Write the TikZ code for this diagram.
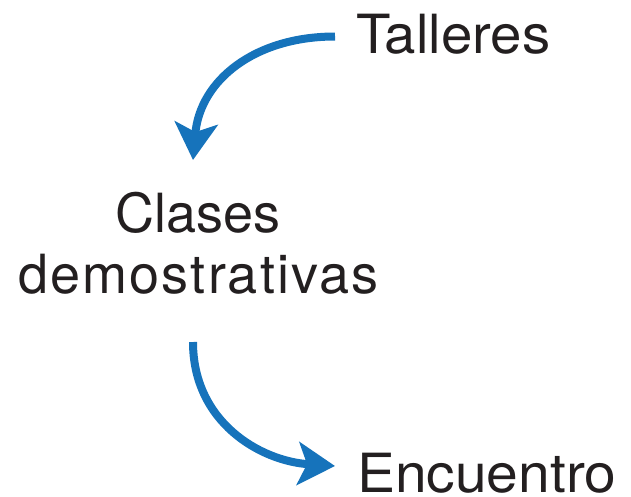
\documentclass[tikz,border=0pt]{standalone}
\usepackage{fontspec}
\setmainfont{TeX Gyre Heros}
\usetikzlibrary{arrows.meta}
\definecolor{arrowblue}{RGB}{22,115,187}
\definecolor{textdark}{RGB}{35,31,32}
\tikzset{
  label text/.style={inner sep=0pt, outer sep=0pt, text=textdark, font=\fontsize{54}{60}\selectfont},
  flow/.style={draw=arrowblue, line width=8pt,
    -{Stealth[length=37pt, width=43pt, inset=9pt]}}
}
\begin{document}
\begin{tikzpicture}[x=1pt,y=-1pt]
\useasboundingbox (0,0) rectangle (631,496);
\node[label text, anchor=base west] (talleres) at (356,53) {\addfontfeature{FakeStretch=1.045}Talleres};
\node[label text, anchor=base] (clases) at (198,232) {Clases};
\node[label text, anchor=base] (demo) at (198.5,293) {\addfontfeature{LetterSpace=4}demostrativas};
\node[label text, anchor=base west] (enc) at (357,492) {\addfontfeature{FakeStretch=1.055}Encuentro};
\draw[flow] ([xshift=-21pt,yshift=16.5pt]talleres.base west)
  .. controls +(-80pt,0pt) and +(7pt,80pt) ..
  ([xshift=-5pt,yshift=72pt]clases.base);
\draw[flow] ([xshift=-5.5pt,yshift=-49pt]demo.base)
  .. controls +(0pt,-80pt) and +(-75pt,5pt) ..
  ([xshift=-22pt,yshift=26pt]enc.base west);
\end{tikzpicture}
\end{document}
